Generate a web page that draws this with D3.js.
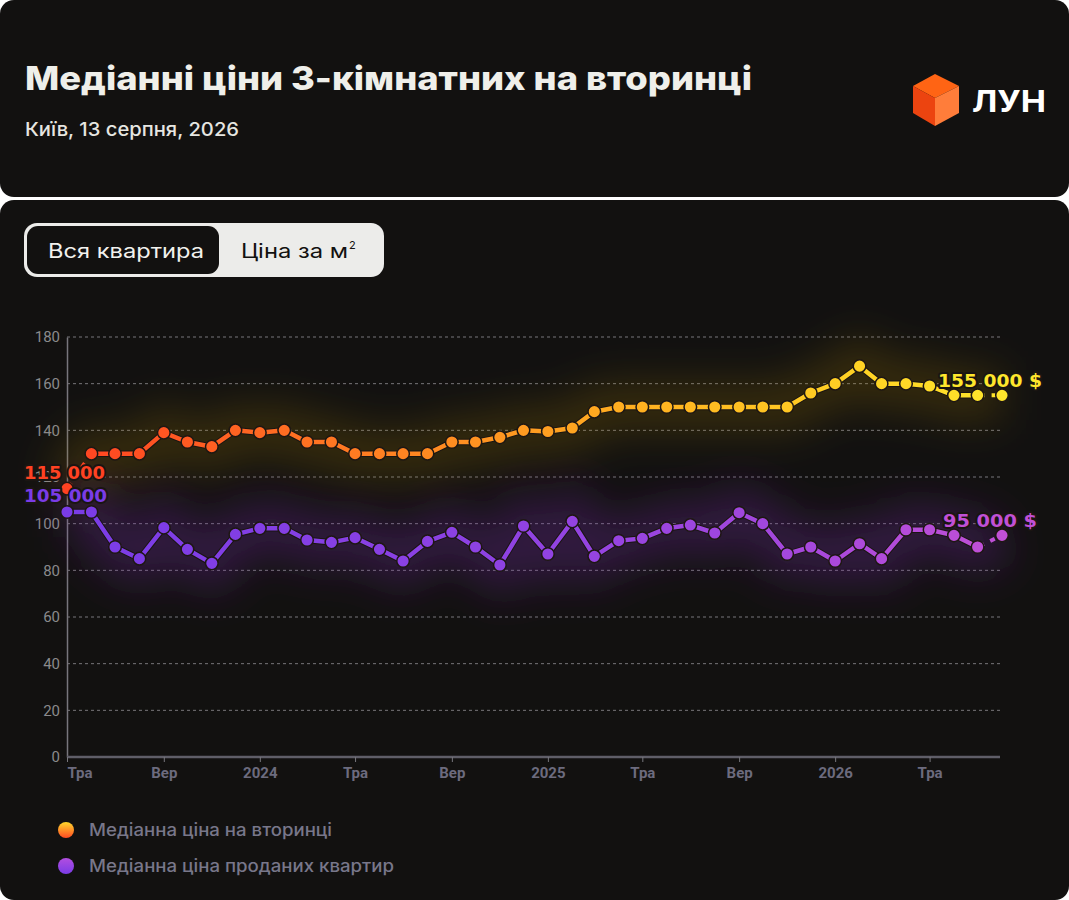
<!DOCTYPE html>
<html>
<head>
<meta charset="utf-8">
<script src="https://cdn.jsdelivr.net/npm/d3@7"></script>
<style>
  body { margin: 0; background: #ffffff; }
  svg { display: block; }
</style>
</head>
<body>
<div id="chart"></div>
<script>
// monthly points, May 2023 .. Aug 2026
var months = [
  "2023-05","2023-06","2023-07","2023-08","2023-09","2023-10","2023-11","2023-12",
  "2024-01","2024-02","2024-03","2024-04","2024-05","2024-06","2024-07","2024-08",
  "2024-09","2024-10","2024-11","2024-12",
  "2025-01","2025-02","2025-03","2025-04","2025-05","2025-06","2025-07","2025-08",
  "2025-09","2025-10","2025-11","2025-12",
  "2026-01","2026-02","2026-03","2026-04","2026-05","2026-06","2026-07","2026-08"
];
// thousands of $
var secondaryPrice = [
  115, 130, 130, 130, 139, 135, 133, 140,
  139, 140, 135, 135, 130, 130, 130, 130, 135, 135, 137, 140,
  139.5, 141, 148, 150, 150, 150, 150, 150, 150, 150, 150, 156,
  160, 167.5, 160, 160, 159, 155, 155, 155
];
var soldPrice = [
  105, 105, 90, 85, 98.3, 89, 83, 95.4,
  98, 98, 93, 92, 94, 89, 84, 92.4, 96.3, 90, 82.3, 99,
  87, 101, 86, 92.7, 93.7, 98, 99.4, 96, 104.7, 100, 87, 90,
  84, 91.4, 85, 97.4, 97.4, 95, 90, 95
];
var seriesNames = ["Медіанна ціна на вторинці", "Медіанна ціна проданих квартир"];
var yTicks = [0, 20, 40, 60, 80, 100, 120, 140, 160, 180];
var xTickMonths = ["2023-05","2023-09","2024-01","2024-05","2024-09","2025-01","2025-05","2025-09","2026-01","2026-05"];
var xTickLabels = ["Тра","Вер","2024","Тра","Вер","2025","Тра","Вер","2026","Тра"];
var startLabels = ["115 000", "105 000"];
var endLabels = ["155 000 $", "95 000 $"];

var W = 1069, H = 900;
var parse = d3.timeParse("%Y-%m");
var dates = months.map(parse);

var svg = d3.select("#chart").append("svg")
    .attr("width", W)
    .attr("height", H);

var defs = svg.append("defs");

// cards
svg.append("rect").attr("x", 0).attr("y", 0).attr("width", W).attr("height", 197)
    .attr("rx", 14).attr("fill", "#121110");
svg.append("rect").attr("x", 0).attr("y", 200).attr("width", W).attr("height", 700)
    .attr("rx", 14).attr("fill", "#121110");

// header
function fitText(sel, w) {
    sel.attr("textLength", w).attr("lengthAdjust", "spacingAndGlyphs");
}
svg.append("text")
    .attr("x", 25).attr("y", 90)
    .attr("fill", "#efefea")
    .attr("font-family", "Inter, 'DejaVu Sans', sans-serif")
    .attr("font-weight", 800)
    .attr("font-size", 33)
    .text("Медіанні ціни 3-кімнатних на вторинці")
    .call(fitText, 727);

svg.append("text")
    .attr("x", 25).attr("y", 136)
    .attr("fill", "#e6e6e1")
    .attr("font-family", "Inter, 'DejaVu Sans', sans-serif")
    .attr("font-weight", 500)
    .attr("font-size", 19)
    .text("Київ, 13 серпня, 2026")
    .call(fitText, 214);

// logo
var logo = svg.append("g");
logo.append("path").attr("d", "M913,86 L935,74 L959,86 L935,98 Z").attr("fill", "#ff6414");
logo.append("path").attr("d", "M913,86 L935,98 L935,126 L913,113 Z").attr("fill", "#ec4410");
logo.append("path").attr("d", "M935,98 L959,86 L959,113 L935,126 Z").attr("fill", "#ff7d3a");
svg.append("text")
    .attr("x", 972).attr("y", 112)
    .attr("fill", "#ffffff")
    .attr("font-family", "Inter, 'DejaVu Sans', sans-serif")
    .attr("font-weight", 700)
    .attr("font-size", 30)
    .text("ЛУН")
    .call(fitText, 74);

// toggle
svg.append("rect").attr("x", 24).attr("y", 223).attr("width", 360).attr("height", 54)
    .attr("rx", 13).attr("fill", "#ececea");
svg.append("rect").attr("x", 27).attr("y", 226).attr("width", 192).attr("height", 48)
    .attr("rx", 11).attr("fill", "#121110");
svg.append("text").attr("x", 48).attr("y", 258)
    .attr("fill", "#f2f2ee").attr("font-family", "Inter, sans-serif").attr("font-size", 20)
    .text("Вся квартира").call(fitText, 156);
var t2 = svg.append("text").attr("x", 241).attr("y", 258)
    .attr("fill", "#121110").attr("font-family", "Inter, sans-serif").attr("font-size", 20);
t2.append("tspan").attr("textLength", 107).attr("lengthAdjust", "spacingAndGlyphs").text("Ціна за м");
t2.append("tspan").attr("font-size", 11).attr("dx", 1).attr("dy", -9).text("2");

// chart
var x = d3.scaleTime().domain([dates[0], dates[dates.length - 1]]).range([67, 1002]);
var y = d3.scaleLinear().domain([0, 180]).range([757, 337]);

var orangeColor = d3.scaleLinear()
    .domain([67, 350, 620, 860, 1002])
    .range(["#ff4222", "#ff7a22", "#ffad20", "#ffd224", "#ffe62c"]);
var purpleColor = d3.scaleLinear()
    .domain([67, 500, 800, 1002])
    .range(["#7a3ce6", "#8e42e2", "#a548dc", "#c150d6"]);
var colorScales = [orangeColor, purpleColor];
var seriesData = [secondaryPrice, soldPrice];

function addGradient(id, cs) {
    var g = defs.append("linearGradient").attr("id", id)
        .attr("gradientUnits", "userSpaceOnUse")
        .attr("x1", 67).attr("x2", 1002).attr("y1", 0).attr("y2", 0);
    cs.domain().forEach(function (d) {
        g.append("stop").attr("offset", (d - 67) / (1002 - 67)).attr("stop-color", cs(d));
    });
}
addGradient("gradOrange", orangeColor);
addGradient("gradPurple", purpleColor);
var gradIds = ["gradOrange", "gradPurple"];

var blur = defs.append("filter").attr("id", "glow")
    .attr("filterUnits", "userSpaceOnUse")
    .attr("x", 0).attr("y", 250).attr("width", W).attr("height", 450);
blur.append("feGaussianBlur").attr("stdDeviation", 20);

// grid
svg.append("g").selectAll("line").data(yTicks.filter(function (d) { return d > 0; }))
    .join("line")
    .attr("x1", 67).attr("x2", 1000)
    .attr("y1", function (d) { return y(d); }).attr("y2", function (d) { return y(d); })
    .attr("stroke", "#77767a").attr("stroke-width", 1).attr("stroke-dasharray", "3 3");

// y axis
var yAxis = svg.append("g").attr("transform", "translate(67,0)")
    .call(d3.axisLeft(y).tickValues(yTicks).tickSize(0).tickPadding(7));
yAxis.select(".domain").attr("stroke", "#77767c").attr("stroke-width", 1.5);
yAxis.selectAll("text").attr("fill", "#8a8a8c")
    .attr("font-family", "Roboto, sans-serif").attr("font-size", 15);

// x axis
var xAxis = svg.append("g").attr("transform", "translate(0,757)")
    .call(d3.axisBottom(x).tickValues(xTickMonths.map(parse))
        .tickFormat(function (d, i) { return xTickLabels[i]; })
        .tickSize(5).tickSizeOuter(0));
xAxis.select(".domain").attr("stroke", "#5f5e68").attr("stroke-width", 2.5)
    .attr("d", "M67,0H1000");
xAxis.selectAll(".tick line").attr("stroke", "#77767c");
xAxis.selectAll("text").attr("fill", "#6c6b7e")
    .attr("font-family", "Roboto, sans-serif").attr("font-weight", 700)
    .attr("font-size", 15).attr("dy", "0.85em")
    .attr("text-anchor", function (d, i) { return i === 0 ? "start" : "middle"; });

var line = d3.line()
    .x(function (d, i) { return x(dates[i]); })
    .y(function (d) { return y(d); });

seriesData.forEach(function (vals, s) {
    // glow
    svg.append("path")
        .attr("d", line(vals))
        .attr("fill", "none")
        .attr("stroke", s === 0 ? "#b88a18" : "#7a2fb0")
        .attr("stroke-width", 50)
        .attr("stroke-opacity", s === 0 ? 0.22 : 0.3)
        .attr("filter", "url(#glow)");
});

var n = months.length;
seriesData.forEach(function (vals, s) {
    var g = svg.append("g");
    var solidFrom = s === 0 ? 1 : 0;
    // main solid part
    var solid = vals.map(function (v, i) { return (i >= solidFrom && i <= n - 2) ? v : null; });
    var segLine = d3.line()
        .defined(function (d) { return d !== null; })
        .x(function (d, i) { return x(dates[i]); })
        .y(function (d) { return y(d); });
    g.append("path").attr("d", segLine(solid))
        .attr("fill", "none").attr("stroke", "#1a1512").attr("stroke-width", 6.5)
        .attr("stroke-linejoin", "round");
    g.append("path").attr("d", segLine(solid))
        .attr("fill", "none").attr("stroke", "url(#" + gradIds[s] + ")").attr("stroke-width", 4.5)
        .attr("stroke-linejoin", "round");
    // dashed ends
    var dashed = [[n - 2, n - 1]];
    if (s === 0) dashed.push([0, 1]);
    dashed.forEach(function (p) {
        g.append("path")
            .attr("d", d3.line()
                .x(function (i) { return x(dates[i]); })
                .y(function (i) { return y(vals[i]); })(p))
            .attr("fill", "none").attr("stroke", "url(#" + gradIds[s] + ")")
            .attr("stroke-width", 4).attr("stroke-dasharray", "5 7").attr("stroke-dashoffset", -2);
    });
    // markers
    g.selectAll("circle").data(vals).join("circle")
        .attr("cx", function (d, i) { return x(dates[i]); })
        .attr("cy", function (d) { return y(d); })
        .attr("r", 6.3)
        .attr("fill", function (d, i) { return colorScales[s](x(dates[i])); })
        .attr("stroke", "#1e1713").attr("stroke-width", 1.5);
});

// value labels
var labelFont = "'DejaVu Sans', Inter, sans-serif";
function valueLabel(px, py, txt, color, w) {
    svg.append("text")
        .attr("x", px).attr("y", py)
        .attr("fill", color)
        .attr("stroke", "#1a1512").attr("stroke-width", 4).attr("stroke-linejoin", "round")
        .attr("paint-order", "stroke")
        .attr("font-family", labelFont).attr("font-weight", 700).attr("font-size", 18)
        .text(txt).call(fitText, w);
}
valueLabel(24, 479, startLabels[0], orangeColor(67), 81);
valueLabel(24, 502, startLabels[1], purpleColor(67), 83);
valueLabel(938, 387, endLabels[0], orangeColor(1002), 104);
valueLabel(943, 527, endLabels[1], purpleColor(1002), 94);

// legend
var legendTop = [["#ffd82c", "#ff4a22"], ["#b24ee0", "#7a3ce6"]];
legendTop.forEach(function (c, i) {
    var gid = "leg" + i;
    var lg = defs.append("linearGradient").attr("id", gid)
        .attr("x1", 0).attr("x2", 0).attr("y1", 0).attr("y2", 1);
    lg.append("stop").attr("offset", 0).attr("stop-color", c[0]);
    lg.append("stop").attr("offset", 1).attr("stop-color", c[1]);
    var cy = 830 + i * 36;
    svg.append("circle").attr("cx", 66).attr("cy", cy).attr("r", 8).attr("fill", "url(#" + gid + ")");
    svg.append("text").attr("x", 89).attr("y", cy + 6)
        .attr("fill", "#78778a")
        .attr("font-family", "Inter, sans-serif").attr("font-weight", 500).attr("font-size", 17)
        .text(seriesNames[i]).call(fitText, i === 0 ? 243 : 305);
});
</script>
</body>
</html>
